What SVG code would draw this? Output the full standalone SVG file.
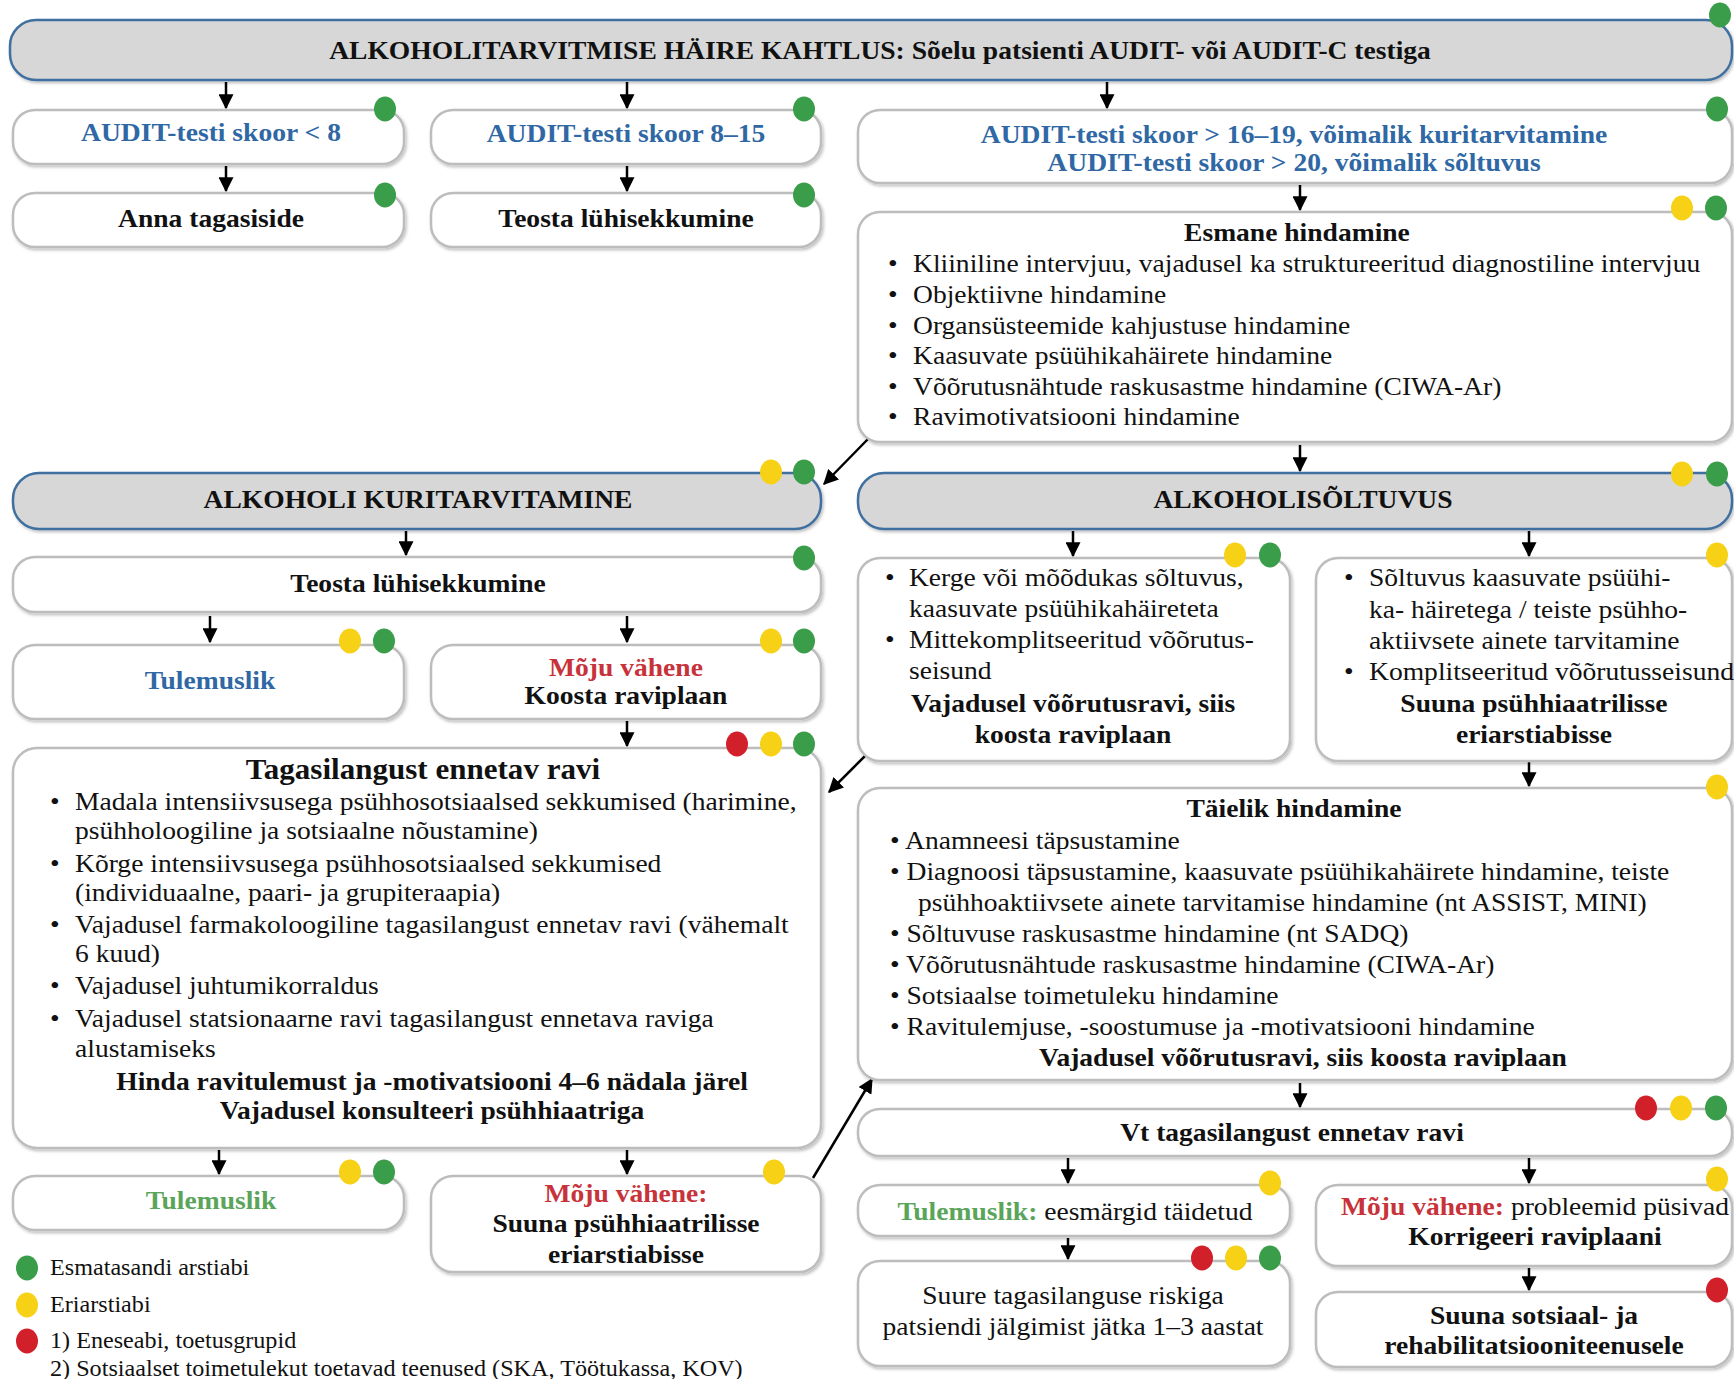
<svg xmlns="http://www.w3.org/2000/svg" width="1734" height="1379" viewBox="0 0 1734 1379">
<style>
.box{fill:#fff;stroke:#bdbdbd;stroke-width:2.5;filter:url(#sh)}
.hdr{fill:#d7d7d7;stroke:#3f6f9f;stroke-width:2.5;filter:url(#sh)}
.t{font-family:"Liberation Serif","Times New Roman",serif;font-size:26px;fill:#111}
.b{font-weight:bold}
.c{text-anchor:middle}
.blue{fill:#2f68a4}
.red{fill:#c8323a}
.grn{fill:#5aa55a}
.dg{fill:#3a9d4a}
.dy{fill:#f6d115}
.dr{fill:#d2202a}
.ar{stroke:#000;stroke-width:2.5;fill:none;marker-end:url(#ah)}
.lg{font-size:22.8px}
.ttl{font-size:29.3px}
</style>
<defs>
<marker id="ah" viewBox="0 0 12 12" refX="11" refY="6" markerWidth="15" markerHeight="15" markerUnits="userSpaceOnUse" orient="auto"><path d="M0,0 L12,6 L0,12 z" fill="#000"/></marker>
<filter id="sh" x="-5%" y="-10%" width="110%" height="130%"><feDropShadow dx="1.5" dy="2" stdDeviation="1.5" flood-color="#000" flood-opacity="0.25"/></filter>
</defs>
<rect width="1734" height="1379" fill="#fff"/>

<g id="connectors">
<line class="ar" x1="226" y1="82" x2="226" y2="108"/>
<line class="ar" x1="627" y1="82" x2="627" y2="108"/>
<line class="ar" x1="1107" y1="82" x2="1107" y2="108"/>
<line class="ar" x1="226" y1="166" x2="226" y2="191"/>
<line class="ar" x1="627" y1="166" x2="627" y2="191"/>
<line class="ar" x1="1300" y1="185" x2="1300" y2="210"/>
<line class="ar" x1="868" y1="439" x2="824" y2="484"/>
<line class="ar" x1="1300" y1="445" x2="1300" y2="471"/>
<line class="ar" x1="406" y1="531" x2="406" y2="555"/>
<line class="ar" x1="210" y1="616" x2="210" y2="642"/>
<line class="ar" x1="627" y1="616" x2="627" y2="642"/>
<line class="ar" x1="627" y1="721" x2="627" y2="746"/>
<line class="ar" x1="868" y1="753" x2="829" y2="792"/>
<line class="ar" x1="1073" y1="531" x2="1073" y2="556"/>
<line class="ar" x1="1529" y1="531" x2="1529" y2="556"/>
<line class="ar" x1="1529" y1="762" x2="1529" y2="786"/>
<line class="ar" x1="219" y1="1150" x2="219" y2="1174"/>
<line class="ar" x1="627" y1="1150" x2="627" y2="1174"/>
<line class="ar" x1="813" y1="1178" x2="872" y2="1079"/>
<line class="ar" x1="1300" y1="1083" x2="1300" y2="1107"/>
<line class="ar" x1="1068" y1="1158" x2="1068" y2="1183"/>
<line class="ar" x1="1529" y1="1158" x2="1529" y2="1183"/>
<line class="ar" x1="1068" y1="1238" x2="1068" y2="1259"/>
<line class="ar" x1="1529" y1="1268" x2="1529" y2="1290"/>
</g>

<g id="n-top">
<rect class="hdr" x="10" y="20" width="1722" height="60" rx="26"/>
<ellipse class="dg" cx="1720" cy="15" rx="11" ry="12.5"/>
<g transform="matrix(1.06 0 0 1 880 0)"><text class="t b c" x="0" y="59">ALKOHOLITARVITMISE HÄIRE KAHTLUS: Sõelu patsienti AUDIT- või AUDIT-C testiga</text></g>
</g>

<g id="n-a">
<rect class="box" x="13" y="110" width="391" height="54" rx="22"/>
<ellipse class="dg" cx="385" cy="109" rx="11" ry="12.5"/>
<g transform="matrix(1.06 0 0 1 211 0)"><text class="t b c blue" x="0" y="141">AUDIT-testi skoor &lt; 8</text></g>
</g>

<g id="n-b">
<rect class="box" x="431" y="110" width="390" height="54" rx="22"/>
<ellipse class="dg" cx="804" cy="109" rx="11" ry="12.5"/>
<g transform="matrix(1.06 0 0 1 626 0)"><text class="t b c blue" x="0" y="142">AUDIT-testi skoor 8–15</text></g>
</g>

<g id="n-c">
<rect class="box" x="858" y="110" width="874" height="73" rx="22"/>
<ellipse class="dg" cx="1717" cy="109" rx="11" ry="12.5"/>
<g transform="matrix(1.06 0 0 1 1294 0)">
<text class="t b c blue" x="0" y="143">AUDIT-testi skoor &gt; 16–19, võimalik kuritarvitamine</text>
<text class="t b c blue" x="0" y="171">AUDIT-testi skoor &gt; 20, võimalik sõltuvus</text>
</g>
</g>

<g id="n-d">
<rect class="box" x="13" y="193" width="391" height="54" rx="22"/>
<ellipse class="dg" cx="385" cy="195" rx="11" ry="12.5"/>
<g transform="matrix(1.06 0 0 1 211 0)"><text class="t b c" x="0" y="227">Anna tagasiside</text></g>
</g>

<g id="n-e">
<rect class="box" x="431" y="193" width="390" height="54" rx="22"/>
<ellipse class="dg" cx="804" cy="195" rx="11" ry="12.5"/>
<g transform="matrix(1.06 0 0 1 626 0)"><text class="t b c" x="0" y="227">Teosta lühisekkumine</text></g>
</g>

<g id="n-esmane">
<rect class="box" x="858" y="212" width="874" height="230" rx="22"/>
<ellipse class="dy" cx="1682" cy="208" rx="11" ry="12.5"/>
<ellipse class="dg" cx="1716" cy="208" rx="11" ry="12.5"/>
<g transform="matrix(1.06 0 0 1 888 0)">
<text class="t b c" x="385.8" y="241">Esmane hindamine</text>
<text class="t" x="0" y="272">•</text><text class="t" x="23.6" y="272">Kliiniline intervjuu, vajadusel ka struktureeritud diagnostiline intervjuu</text>
<text class="t" x="0" y="303">•</text><text class="t" x="23.6" y="303">Objektiivne hindamine</text>
<text class="t" x="0" y="334">•</text><text class="t" x="23.6" y="334">Organsüsteemide kahjustuse hindamine</text>
<text class="t" x="0" y="364">•</text><text class="t" x="23.6" y="364">Kaasuvate psüühikahäirete hindamine</text>
<text class="t" x="0" y="395">•</text><text class="t" x="23.6" y="395">Võõrutusnähtude raskusastme hindamine (CIWA-Ar)</text>
<text class="t" x="0" y="425">•</text><text class="t" x="23.6" y="425">Ravimotivatsiooni hindamine</text>
</g>
</g>

<g id="n-kurit">
<rect class="hdr" x="13" y="473" width="808" height="56" rx="26"/>
<ellipse class="dy" cx="771" cy="472" rx="11" ry="12.5"/>
<ellipse class="dg" cx="804" cy="472" rx="11" ry="12.5"/>
<g transform="matrix(1.06 0 0 1 418 0)"><text class="t b c" x="0" y="508">ALKOHOLI KURITARVITAMINE</text></g>
</g>

<g id="n-soltuvus">
<rect class="hdr" x="858" y="473" width="874" height="56" rx="26"/>
<ellipse class="dy" cx="1682" cy="474" rx="11" ry="12.5"/>
<ellipse class="dg" cx="1717" cy="474" rx="11" ry="12.5"/>
<g transform="matrix(1.06 0 0 1 1303 0)"><text class="t b c" x="0" y="508">ALKOHOLISÕLTUVUS</text></g>
</g>

<g id="n-teosta2">
<rect class="box" x="13" y="557" width="808" height="55" rx="22"/>
<ellipse class="dg" cx="804" cy="558" rx="11" ry="12.5"/>
<g transform="matrix(1.06 0 0 1 418 0)"><text class="t b c" x="0" y="592">Teosta lühisekkumine</text></g>
</g>

<g id="n-tulem1">
<rect class="box" x="13" y="645" width="391" height="74" rx="22"/>
<ellipse class="dy" cx="350" cy="641" rx="11" ry="12.5"/>
<ellipse class="dg" cx="384" cy="641" rx="11" ry="12.5"/>
<g transform="matrix(1.06 0 0 1 210 0)"><text class="t b c blue" x="0" y="689">Tulemuslik</text></g>
</g>

<g id="n-moju1">
<rect class="box" x="431" y="645" width="390" height="74" rx="22"/>
<ellipse class="dy" cx="771" cy="641" rx="11" ry="12.5"/>
<ellipse class="dg" cx="804" cy="641" rx="11" ry="12.5"/>
<g transform="matrix(1.06 0 0 1 626 0)">
<text class="t b c red" x="0" y="676">Mõju vähene</text>
<text class="t b c" x="0" y="704">Koosta raviplaan</text>
</g>
</g>

<g id="n-tagasi">
<rect class="box" x="13" y="748" width="808" height="400" rx="24"/>
<ellipse class="dr" cx="737" cy="744" rx="11" ry="12.5"/>
<ellipse class="dy" cx="771" cy="744" rx="11" ry="12.5"/>
<ellipse class="dg" cx="804" cy="744" rx="11" ry="12.5"/>
<g transform="matrix(1.06 0 0 1 50 0)">
<text class="t b c ttl" x="351.9" y="779">Tagasilangust ennetav ravi</text>
<text class="t" x="0" y="810">•</text><text class="t" x="23.6" y="810">Madala intensiivsusega psühhosotsiaalsed sekkumised (harimine,</text>
<text class="t" x="23.6" y="839">psühholoogiline ja sotsiaalne nõustamine)</text>
<text class="t" x="0" y="872">•</text><text class="t" x="23.6" y="872">Kõrge intensiivsusega psühhosotsiaalsed sekkumised</text>
<text class="t" x="23.6" y="901">(individuaalne, paari- ja grupiteraapia)</text>
<text class="t" x="0" y="933">•</text><text class="t" x="23.6" y="933">Vajadusel farmakoloogiline tagasilangust ennetav ravi (vähemalt</text>
<text class="t" x="23.6" y="962">6 kuud)</text>
<text class="t" x="0" y="994">•</text><text class="t" x="23.6" y="994">Vajadusel juhtumikorraldus</text>
<text class="t" x="0" y="1027">•</text><text class="t" x="23.6" y="1027">Vajadusel statsionaarne ravi tagasilangust ennetava raviga</text>
<text class="t" x="23.6" y="1057">alustamiseks</text>
<text class="t b c" x="360.4" y="1090">Hinda ravitulemust ja -motivatsiooni 4–6 nädala järel</text>
<text class="t b c" x="360.4" y="1119">Vajadusel konsulteeri psühhiaatriga</text>
</g>
</g>

<g id="n-tulem2">
<rect class="box" x="13" y="1176" width="391" height="54" rx="22"/>
<ellipse class="dy" cx="350" cy="1172" rx="11" ry="12.5"/>
<ellipse class="dg" cx="384" cy="1172" rx="11" ry="12.5"/>
<g transform="matrix(1.06 0 0 1 211 0)"><text class="t b c grn" x="0" y="1209">Tulemuslik</text></g>
</g>

<g id="n-moju2">
<rect class="box" x="431" y="1176" width="390" height="96" rx="22"/>
<ellipse class="dy" cx="774" cy="1172" rx="11" ry="12.5"/>
<g transform="matrix(1.06 0 0 1 626 0)">
<text class="t b c red" x="0" y="1202">Mõju vähene:</text>
<text class="t b c" x="0" y="1232">Suuna psühhiaatrilisse</text>
<text class="t b c" x="0" y="1263">eriarstiabisse</text>
</g>
</g>

<g id="legend">
<ellipse class="dg" cx="27" cy="1268" rx="11" ry="12.5"/>
<ellipse class="dy" cx="27" cy="1305" rx="11" ry="12.5"/>
<ellipse class="dr" cx="27" cy="1341" rx="11" ry="12.5"/>
<g transform="matrix(1.06 0 0 1 50 0)">
<text class="t lg" x="0" y="1275">Esmatasandi arstiabi</text>
<text class="t lg" x="0" y="1312">Eriarstiabi</text>
<text class="t lg" x="0" y="1348">1) Eneseabi, toetusgrupid</text>
<text class="t lg" x="0" y="1376">2) Sotsiaalset toimetulekut toetavad teenused (SKA, Töötukassa, KOV)</text>
</g>
</g>

<g id="n-kerge">
<rect class="box" x="858" y="558" width="432" height="203" rx="22"/>
<ellipse class="dy" cx="1235" cy="555" rx="11" ry="12.5"/>
<ellipse class="dg" cx="1270" cy="555" rx="11" ry="12.5"/>
<g transform="matrix(1.06 0 0 1 885 0)">
<text class="t" x="0" y="586">•</text><text class="t" x="22.6" y="586">Kerge või mõõdukas sõltuvus,</text>
<text class="t" x="22.6" y="617">kaasuvate psüühikahäireteta</text>
<text class="t" x="0" y="648">•</text><text class="t" x="22.6" y="648">Mittekomplitseeritud võõrutus-</text>
<text class="t" x="22.6" y="679">seisund</text>
<text class="t b c" x="177.4" y="712">Vajadusel võõrutusravi, siis</text>
<text class="t b c" x="177.4" y="743">koosta raviplaan</text>
</g>
</g>

<g id="n-kaasuv">
<rect class="box" x="1316" y="558" width="416" height="203" rx="22"/>
<ellipse class="dy" cx="1717" cy="555" rx="11" ry="12.5"/>
<g transform="matrix(1.06 0 0 1 1344 0)">
<text class="t" x="0" y="586">•</text><text class="t" x="23.6" y="586">Sõltuvus kaasuvate psüühi-</text>
<text class="t" x="23.6" y="618">ka- häiretega / teiste psühho-</text>
<text class="t" x="23.6" y="649">aktiivsete ainete tarvitamine</text>
<text class="t" x="0" y="680">•</text><text class="t" x="23.6" y="680">Komplitseeritud võõrutusseisund</text>
<text class="t b c" x="179.2" y="712">Suuna psühhiaatrilisse</text>
<text class="t b c" x="179.2" y="743">eriarstiabisse</text>
</g>
</g>

<g id="n-taielik">
<rect class="box" x="858" y="788" width="874" height="292" rx="22"/>
<ellipse class="dy" cx="1717" cy="787" rx="11" ry="12.5"/>
<g transform="matrix(1.06 0 0 1 890 0)">
<text class="t b c" x="381.1" y="817">Täielik hindamine</text>
<text class="t" x="0" y="849">• Anamneesi täpsustamine</text>
<text class="t" x="0" y="880">• Diagnoosi täpsustamine, kaasuvate psüühikahäirete hindamine, teiste</text>
<text class="t" x="26.4" y="911">psühhoaktiivsete ainete tarvitamise hindamine (nt ASSIST, MINI)</text>
<text class="t" x="0" y="942">• Sõltuvuse raskusastme hindamine (nt SADQ)</text>
<text class="t" x="0" y="973">• Võõrutusnähtude raskusastme hindamine (CIWA-Ar)</text>
<text class="t" x="0" y="1004">• Sotsiaalse toimetuleku hindamine</text>
<text class="t" x="0" y="1035">• Ravitulemjuse, -soostumuse ja -motivatsiooni hindamine</text>
<text class="t b c" x="389.6" y="1066">Vajadusel võõrutusravi, siis koosta raviplaan</text>
</g>
</g>

<g id="n-vt">
<rect class="box" x="858" y="1109" width="874" height="47" rx="22"/>
<ellipse class="dr" cx="1646" cy="1108" rx="11" ry="12.5"/>
<ellipse class="dy" cx="1681" cy="1108" rx="11" ry="12.5"/>
<ellipse class="dg" cx="1716" cy="1108" rx="11" ry="12.5"/>
<g transform="matrix(1.06 0 0 1 1292 0)"><text class="t b c" x="0" y="1141">Vt tagasilangust ennetav ravi</text></g>
</g>

<g id="n-tulem3">
<rect class="box" x="858" y="1185" width="432" height="51" rx="22"/>
<ellipse class="dy" cx="1270" cy="1183" rx="11" ry="12.5"/>
<g transform="matrix(1.06 0 0 1 1075 0)"><text class="t c" x="0" y="1220"><tspan class="b grn">Tulemuslik:</tspan> eesmärgid täidetud</text></g>
</g>

<g id="n-suure">
<rect class="box" x="858" y="1261" width="432" height="105" rx="22"/>
<ellipse class="dr" cx="1202" cy="1258" rx="11" ry="12.5"/>
<ellipse class="dy" cx="1236" cy="1258" rx="11" ry="12.5"/>
<ellipse class="dg" cx="1270" cy="1258" rx="11" ry="12.5"/>
<g transform="matrix(1.06 0 0 1 1073 0)">
<text class="t c" x="0" y="1304">Suure tagasilanguse riskiga</text>
<text class="t c" x="0" y="1335">patsiendi jälgimist jätka 1–3 aastat</text>
</g>
</g>

<g id="n-moju3">
<rect class="box" x="1316" y="1185" width="416" height="81" rx="22"/>
<ellipse class="dy" cx="1717" cy="1179" rx="11" ry="12.5"/>
<g transform="matrix(1.06 0 0 1 1535 0)">
<text class="t c" x="0" y="1215"><tspan class="b red">Mõju vähene:</tspan> probleemid püsivad</text>
<text class="t b c" x="0" y="1245">Korrigeeri raviplaani</text>
</g>
</g>

<g id="n-suuna">
<rect class="box" x="1316" y="1292" width="416" height="75" rx="22"/>
<ellipse class="dr" cx="1717" cy="1290" rx="11" ry="12.5"/>
<g transform="matrix(1.06 0 0 1 1534 0)">
<text class="t b c" x="0" y="1324">Suuna sotsiaal- ja</text>
<text class="t b c" x="0" y="1354">rehabilitatsiooniteenusele</text>
</g>
</g>
</svg>
